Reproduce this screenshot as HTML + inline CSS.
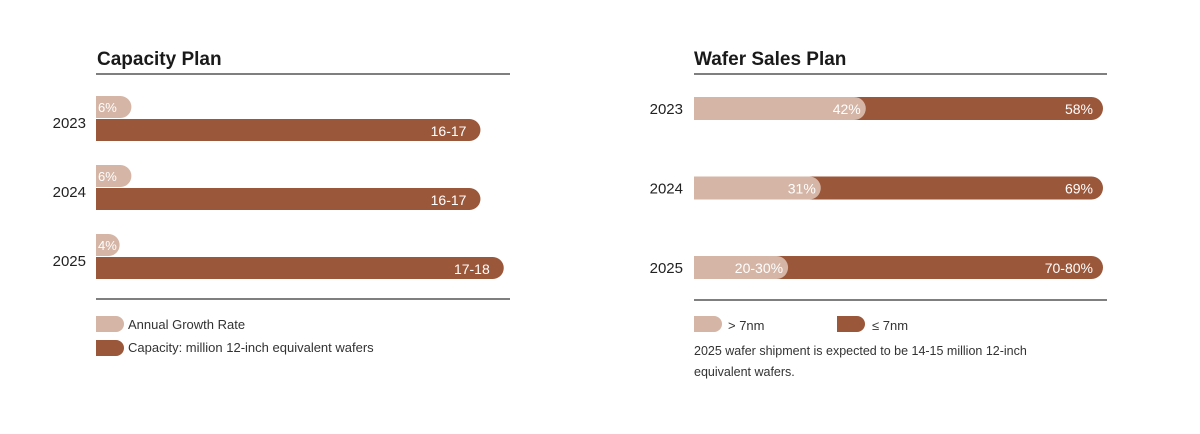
<!DOCTYPE html>
<html><head><meta charset="utf-8"><style>
body{margin:0;background:#fff;width:1200px;height:429px;overflow:hidden;font-family:"Liberation Sans",sans-serif}
svg text{font-family:"Liberation Sans",sans-serif}
</style></head><body>
<svg id="c" width="1200" height="429">
<text x="97" y="65" font-size="19" font-weight="bold" fill="#1a1a1a">Capacity Plan</text>
<line x1="96" y1="74" x2="510" y2="74" stroke="#555" stroke-width="1.5"/>
<line x1="96" y1="299" x2="510" y2="299" stroke="#555" stroke-width="1.5"/>
<text x="694" y="65" font-size="19" font-weight="bold" fill="#1a1a1a">Wafer Sales Plan</text>
<line x1="694" y1="74" x2="1107" y2="74" stroke="#555" stroke-width="1.5"/>
<line x1="694" y1="300" x2="1107" y2="300" stroke="#555" stroke-width="1.5"/>
<g>
<path d="M96 316H116A8 8 0 0 1 116 332H96Z" fill="#d5b5a5"/>
<text x="128" y="329" font-size="13" fill="#333">Annual Growth Rate</text>
<path d="M96 340H116A8 8 0 0 1 116 356H96Z" fill="#9b573a"/>
<text x="128" y="352" font-size="13" fill="#333">Capacity: million 12-inch equivalent wafers</text>
</g>
<g>
<path d="M694 316H714A8 8 0 0 1 714 332H694Z" fill="#d5b5a5"/>
<text x="728" y="330" font-size="13" fill="#333">&gt; 7nm</text>
<path d="M837 316H857A8 8 0 0 1 857 332H837Z" fill="#9b573a"/>
<text x="872" y="330" font-size="13" fill="#333">≤ 7nm</text>
<text x="694" y="355" font-size="12.5" fill="#333">2025 wafer shipment is expected to be 14-15 million 12-inch</text>
<text x="694" y="376" font-size="12.5" fill="#333">equivalent wafers.</text>
</g>
<g id="left"></g><g id="right"></g>
</svg>
<script>
const years=["2023","2024","2025"];
const growthValues=[6,6,4];
const growthLabels=["6%","6%","4%"];
const capacityValues=[16.5,16.5,17.5];
const capacityLabels=["16-17","16-17","17-18"];
const lightValues=[42,31,23];
const lightLabels=["42%","31%","20-30%"];
const darkLabels=["58%","69%","70-80%"];
const NS="http://www.w3.org/2000/svg";
function mk(p,t,a){const e=document.createElementNS(NS,t);for(const k in a)e.setAttribute(k,a[k]);p.appendChild(e);return e;}
function pill(x,y,w,h){const r=h/2;return `M${x} ${y}H${x+w-r}A${r} ${r} 0 0 1 ${x+w-r} ${y+h}H${x}Z`;}
const L=document.getElementById('left'),R=document.getElementById('right');
const capX=v=>v*23.3, grX=v=>v*5.9;
const leftY=i=>96+i*69, rightY=i=>97+i*79.5;
years.forEach((yr,i)=>{
  const y=leftY(i);
  let t=mk(L,'text',{x:86,y:y+32,'font-size':15,fill:'#222','text-anchor':'end'});t.textContent=yr;
  
  
  let g=mk(L,'path',{d:pill(96,y,Math.max(grX(growthValues[i]),22),22),fill:'#d5b5a5'});
  
  
  t=mk(L,'text',{x:98,y:y+16,'font-size':13,fill:'#fff'});t.textContent=growthLabels[i];
  
  
  const w=capX(capacityValues[i]);
  let b=mk(L,'path',{d:pill(96,y+23,w,22),fill:'#9b573a'});
  
  
  t=mk(L,'text',{x:96+w-14,y:y+40,'font-size':14,fill:'#fff','text-anchor':'end'});t.textContent=capacityLabels[i];
  
  
  // right
  const ry=rightY(i),W=409,x0=694;
  t=mk(R,'text',{x:683,y:ry+17,'font-size':15,fill:'#222','text-anchor':'end'});t.textContent=yr;
  
  
  b=mk(R,'path',{d:pill(x0,ry,W,23),fill:'#9b573a'});
  
  
  const lw=W*lightValues[i]/100;
  b=mk(R,'path',{d:pill(x0,ry,lw,23),fill:'#d5b5a5'});
  
  
  t=mk(R,'text',{x:x0+lw-5,y:ry+17,'font-size':14,fill:'#fff','text-anchor':'end'});t.textContent=lightLabels[i];
  
  
  t=mk(R,'text',{x:x0+W-10,y:ry+17,'font-size':14,fill:'#fff','text-anchor':'end'});t.textContent=darkLabels[i];
  
  
});
</script>
</body></html>
